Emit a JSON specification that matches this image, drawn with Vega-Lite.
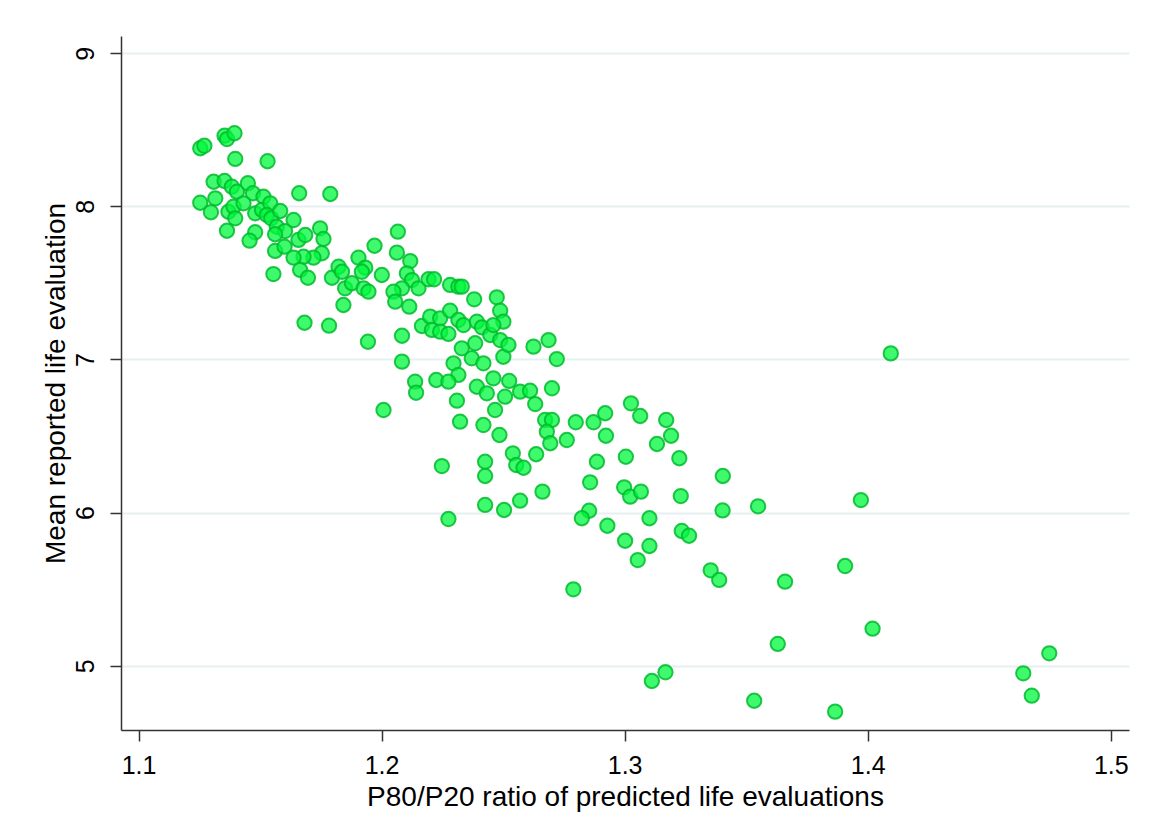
{
  "$schema": "https://vega.github.io/schema/vega-lite/v6.json",
  "width": 1008,
  "height": 694,
  "autosize": {"type": "none"},
  "padding": {"left": 121, "top": 36, "right": 24, "bottom": 109},
  "background": "white",
  "config": {
    "view": {"stroke": null},
    "font": "Liberation Sans",
    "axis": {
      "labelFont": "Liberation Sans",
      "titleFont": "Liberation Sans",
      "labelFontSize": 25,
      "titleFontSize": 28,
      "titleFontWeight": "normal",
      "labelColor": "#000000",
      "titleColor": "#000000",
      "domainColor": "#333333",
      "domainWidth": 1.5,
      "tickColor": "#333333",
      "tickWidth": 1.5,
      "tickSize": 11,
      "gridColor": "#e6eff1",
      "gridWidth": 2
    }
  },
  "data": {
    "values": [
      {"ratio": 1.1254, "mean": 8.380}, {"ratio": 1.1271, "mean": 8.396}, {"ratio": 1.1354, "mean": 8.462}, {"ratio": 1.1364, "mean": 8.440},
      {"ratio": 1.1395, "mean": 8.478}, {"ratio": 1.1398, "mean": 8.310}, {"ratio": 1.1531, "mean": 8.295}, {"ratio": 1.1309, "mean": 8.161},
      {"ratio": 1.1354, "mean": 8.166}, {"ratio": 1.1384, "mean": 8.129}, {"ratio": 1.1405, "mean": 8.096}, {"ratio": 1.1450, "mean": 8.151},
      {"ratio": 1.1471, "mean": 8.086}, {"ratio": 1.1514, "mean": 8.063}, {"ratio": 1.1254, "mean": 8.024}, {"ratio": 1.1316, "mean": 8.053},
      {"ratio": 1.1298, "mean": 7.962}, {"ratio": 1.1370, "mean": 7.965}, {"ratio": 1.1391, "mean": 7.998}, {"ratio": 1.1398, "mean": 7.922},
      {"ratio": 1.1364, "mean": 7.841}, {"ratio": 1.1432, "mean": 8.020}, {"ratio": 1.1480, "mean": 7.955}, {"ratio": 1.1508, "mean": 7.977},
      {"ratio": 1.1542, "mean": 8.020}, {"ratio": 1.1528, "mean": 7.944}, {"ratio": 1.1546, "mean": 7.922}, {"ratio": 1.1583, "mean": 7.970},
      {"ratio": 1.1569, "mean": 7.867}, {"ratio": 1.1603, "mean": 7.839}, {"ratio": 1.1638, "mean": 7.911}, {"ratio": 1.1661, "mean": 8.086},
      {"ratio": 1.1789, "mean": 8.081}, {"ratio": 1.1480, "mean": 7.831}, {"ratio": 1.1457, "mean": 7.776}, {"ratio": 1.1562, "mean": 7.818},
      {"ratio": 1.1562, "mean": 7.709}, {"ratio": 1.1601, "mean": 7.737}, {"ratio": 1.1658, "mean": 7.781}, {"ratio": 1.1686, "mean": 7.813},
      {"ratio": 1.1747, "mean": 7.857}, {"ratio": 1.1761, "mean": 7.787}, {"ratio": 1.1754, "mean": 7.694}, {"ratio": 1.1720, "mean": 7.665},
      {"ratio": 1.1679, "mean": 7.671}, {"ratio": 1.1638, "mean": 7.665}, {"ratio": 1.1665, "mean": 7.585}, {"ratio": 1.1697, "mean": 7.534},
      {"ratio": 1.1555, "mean": 7.558}, {"ratio": 1.1796, "mean": 7.534}, {"ratio": 1.1823, "mean": 7.606}, {"ratio": 1.1837, "mean": 7.573},
      {"ratio": 1.1905, "mean": 7.665}, {"ratio": 1.1933, "mean": 7.600}, {"ratio": 1.1971, "mean": 7.743}, {"ratio": 1.2001, "mean": 7.552},
      {"ratio": 1.1850, "mean": 7.465}, {"ratio": 1.1878, "mean": 7.498}, {"ratio": 1.1926, "mean": 7.465}, {"ratio": 1.1919, "mean": 7.573},
      {"ratio": 1.1946, "mean": 7.443}, {"ratio": 1.1843, "mean": 7.356}, {"ratio": 1.1683, "mean": 7.240}, {"ratio": 1.1784, "mean": 7.221},
      {"ratio": 1.1944, "mean": 7.116}, {"ratio": 1.2008, "mean": 6.670}, {"ratio": 1.2067, "mean": 7.835}, {"ratio": 1.2063, "mean": 7.698},
      {"ratio": 1.2118, "mean": 7.643}, {"ratio": 1.2104, "mean": 7.563}, {"ratio": 1.2125, "mean": 7.519}, {"ratio": 1.2084, "mean": 7.465},
      {"ratio": 1.2049, "mean": 7.443}, {"ratio": 1.2056, "mean": 7.378}, {"ratio": 1.2114, "mean": 7.345}, {"ratio": 1.2152, "mean": 7.465},
      {"ratio": 1.2193, "mean": 7.524}, {"ratio": 1.2216, "mean": 7.524}, {"ratio": 1.2282, "mean": 7.487}, {"ratio": 1.2316, "mean": 7.476},
      {"ratio": 1.2330, "mean": 7.476}, {"ratio": 1.2381, "mean": 7.393}, {"ratio": 1.2474, "mean": 7.406}, {"ratio": 1.2488, "mean": 7.319},
      {"ratio": 1.2501, "mean": 7.247}, {"ratio": 1.2084, "mean": 7.155}, {"ratio": 1.2084, "mean": 6.986}, {"ratio": 1.2166, "mean": 7.219},
      {"ratio": 1.2200, "mean": 7.280}, {"ratio": 1.2241, "mean": 7.269}, {"ratio": 1.2282, "mean": 7.319}, {"ratio": 1.2316, "mean": 7.258},
      {"ratio": 1.2207, "mean": 7.193}, {"ratio": 1.2241, "mean": 7.182}, {"ratio": 1.2275, "mean": 7.167}, {"ratio": 1.2337, "mean": 7.225},
      {"ratio": 1.2392, "mean": 7.247}, {"ratio": 1.2413, "mean": 7.210}, {"ratio": 1.2447, "mean": 7.160}, {"ratio": 1.2385, "mean": 7.106},
      {"ratio": 1.2330, "mean": 7.073}, {"ratio": 1.2371, "mean": 7.008}, {"ratio": 1.2419, "mean": 6.975}, {"ratio": 1.2296, "mean": 6.975},
      {"ratio": 1.2316, "mean": 6.899}, {"ratio": 1.2488, "mean": 7.127}, {"ratio": 1.2501, "mean": 7.018}, {"ratio": 1.2138, "mean": 6.855},
      {"ratio": 1.2142, "mean": 6.783}, {"ratio": 1.2225, "mean": 6.866}, {"ratio": 1.2275, "mean": 6.855}, {"ratio": 1.2392, "mean": 6.822},
      {"ratio": 1.2460, "mean": 6.877}, {"ratio": 1.2508, "mean": 6.757}, {"ratio": 1.2433, "mean": 6.779}, {"ratio": 1.2467, "mean": 6.670},
      {"ratio": 1.2310, "mean": 6.731}, {"ratio": 1.2323, "mean": 6.594}, {"ratio": 1.2419, "mean": 6.572}, {"ratio": 1.2485, "mean": 6.507},
      {"ratio": 1.2460, "mean": 7.225}, {"ratio": 1.2522, "mean": 7.095}, {"ratio": 1.2625, "mean": 7.084}, {"ratio": 1.2687, "mean": 7.127},
      {"ratio": 1.2721, "mean": 7.003}, {"ratio": 1.2525, "mean": 6.860}, {"ratio": 1.2570, "mean": 6.790}, {"ratio": 1.2611, "mean": 6.796},
      {"ratio": 1.2632, "mean": 6.709}, {"ratio": 1.2701, "mean": 6.812}, {"ratio": 1.2673, "mean": 6.605}, {"ratio": 1.2701, "mean": 6.605},
      {"ratio": 1.2680, "mean": 6.528}, {"ratio": 1.2694, "mean": 6.453}, {"ratio": 1.2762, "mean": 6.474}, {"ratio": 1.2799, "mean": 6.590},
      {"ratio": 1.2872, "mean": 6.590}, {"ratio": 1.2540, "mean": 6.387}, {"ratio": 1.2554, "mean": 6.311}, {"ratio": 1.2584, "mean": 6.293},
      {"ratio": 1.2636, "mean": 6.381}, {"ratio": 1.2248, "mean": 6.304}, {"ratio": 1.2426, "mean": 6.332}, {"ratio": 1.2426, "mean": 6.239},
      {"ratio": 1.2662, "mean": 6.137}, {"ratio": 1.2570, "mean": 6.078}, {"ratio": 1.2504, "mean": 6.017}, {"ratio": 1.2426, "mean": 6.050},
      {"ratio": 1.2275, "mean": 5.958}, {"ratio": 1.2858, "mean": 6.198}, {"ratio": 1.2886, "mean": 6.332}, {"ratio": 1.2854, "mean": 6.012},
      {"ratio": 1.2824, "mean": 5.963}, {"ratio": 1.2920, "mean": 6.649}, {"ratio": 1.2923, "mean": 6.502}, {"ratio": 1.3026, "mean": 6.714},
      {"ratio": 1.3064, "mean": 6.631}, {"ratio": 1.3171, "mean": 6.605}, {"ratio": 1.3191, "mean": 6.502}, {"ratio": 1.3133, "mean": 6.448},
      {"ratio": 1.3225, "mean": 6.355}, {"ratio": 1.3005, "mean": 6.365}, {"ratio": 1.2998, "mean": 6.165}, {"ratio": 1.3023, "mean": 6.104},
      {"ratio": 1.3067, "mean": 6.137}, {"ratio": 1.3231, "mean": 6.108}, {"ratio": 1.3404, "mean": 6.239}, {"ratio": 1.3403, "mean": 6.014},
      {"ratio": 1.3549, "mean": 6.041}, {"ratio": 1.2929, "mean": 5.914}, {"ratio": 1.3102, "mean": 5.963}, {"ratio": 1.3002, "mean": 5.816},
      {"ratio": 1.3102, "mean": 5.782}, {"ratio": 1.3054, "mean": 5.690}, {"ratio": 1.3235, "mean": 5.880}, {"ratio": 1.3265, "mean": 5.849},
      {"ratio": 1.3354, "mean": 5.623}, {"ratio": 1.3389, "mean": 5.560}, {"ratio": 1.2789, "mean": 5.499}, {"ratio": 1.3168, "mean": 4.957},
      {"ratio": 1.3112, "mean": 4.900}, {"ratio": 1.3533, "mean": 4.771}, {"ratio": 1.4095, "mean": 7.040}, {"ratio": 1.3972, "mean": 6.082},
      {"ratio": 1.3660, "mean": 5.549}, {"ratio": 1.3907, "mean": 5.651}, {"ratio": 1.4020, "mean": 5.242}, {"ratio": 1.3630, "mean": 5.142},
      {"ratio": 1.3866, "mean": 4.700}, {"ratio": 1.4640, "mean": 4.950}, {"ratio": 1.4675, "mean": 4.804}, {"ratio": 1.4747, "mean": 5.081}
    ]
  },
  "mark": {
    "type": "point",
    "shape": "circle",
    "filled": true,
    "size": 205,
    "fill": "#00f83c",
    "fillOpacity": 0.75,
    "stroke": "#00bb2e",
    "strokeOpacity": 0.85,
    "strokeWidth": 2
  },
  "encoding": {
    "x": {
      "field": "ratio",
      "type": "quantitative",
      "scale": {"domain": [1.0928, 1.5075], "nice": false, "zero": false},
      "axis": {
        "title": "P80/P20 ratio of predicted life evaluations",
        "values": [1.1, 1.2, 1.3, 1.4, 1.5],
        "format": ".1f",
        "grid": false,
        "labelPadding": 12,
        "titlePadding": 5
      }
    },
    "y": {
      "field": "mean",
      "type": "quantitative",
      "scale": {"domain": [4.58, 9.113], "nice": false, "zero": false},
      "axis": {
        "title": "Mean reported life evaluation",
        "values": [5, 6, 7, 8, 9],
        "format": "d",
        "grid": true,
        "labelAngle": -90,
        "labelAlign": "center",
        "labelBaseline": "bottom",
        "labelPadding": 12,
        "titlePadding": 3
      }
    }
  }
}
